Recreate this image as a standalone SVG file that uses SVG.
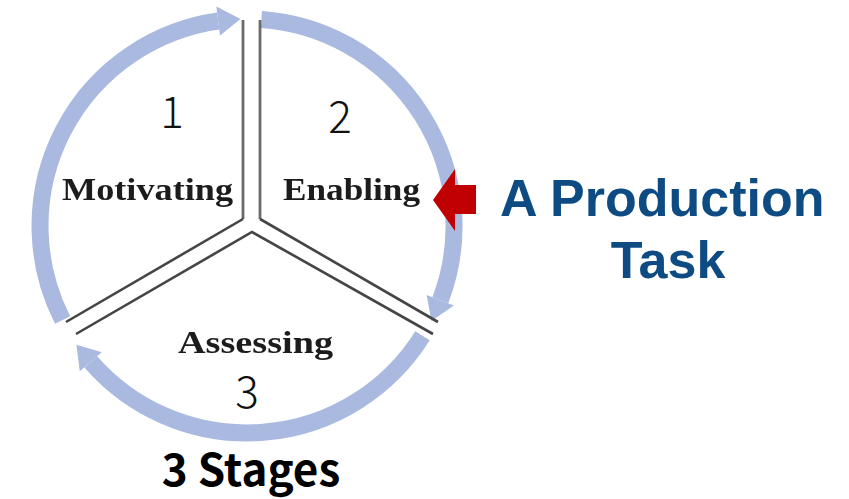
<svg xmlns="http://www.w3.org/2000/svg" width="849" height="499" viewBox="0 0 849 499">
<defs>
<filter id="soft" x="-10%" y="-10%" width="120%" height="120%"><feGaussianBlur stdDeviation="0.7"/></filter>
<filter id="softer" x="-5%" y="-5%" width="110%" height="110%"><feGaussianBlur stdDeviation="0.6"/></filter>
</defs>
<style>
.ring{fill:none;stroke:#a9b9df;stroke-width:17;stroke-linecap:butt}
.head{fill:#a9b9df}
.div{fill:none;stroke:#444;stroke-width:2.6}
.vdiv{fill:none;stroke:#6a6a6a;stroke-width:2.8}
.num{font-family:"Noto Sans CJK SC","Noto Sans",sans-serif;font-weight:300;font-size:44px;fill:#111;text-anchor:middle}
.stage{font-family:"Liberation Serif","DejaVu Serif",serif;font-weight:bold;font-size:31px;fill:#1c1c1c}
.title{font-family:"Liberation Sans",Arial,sans-serif;font-weight:bold;font-size:52px;fill:#0d4b82}
.cap{font-family:"Noto Sans CJK SC","Noto Sans",sans-serif;font-weight:bold;font-size:44px;fill:#000;text-anchor:middle}
</style>
<rect width="849" height="499" fill="#fff"/>
<g id="connectors" filter="url(#soft)">
<path class="ring" d="M62.6,320 A207,207 0 0 1 218.2,21"/>
<polygon class="head" points="220,35.5 216.4,6.5 240.5,19.1"/>
<path class="ring" d="M261.4,19.5 A207,207 0 0 1 440.3,300.2"/>
<polygon class="head" points="426.6,294.9 453.9,305.4 431.4,321"/>
<path class="ring" d="M422.5,335.7 A207,207 0 0 1 90.8,361.8"/>
<polygon class="head" points="101.8,352.3 79.8,371.3 76.4,344.7"/>
<path class="vdiv" d="M243,20 V219"/>
<path class="vdiv" d="M260,20 V219"/>
<path class="div" d="M243,219 L66,322"/>
<path class="div" d="M260,219 L438,322"/>
<path class="div" d="M76,334 L252,232 L433,334"/>
</g>
<g id="motivating">
<text class="num" x="172" y="128">1</text>
<text class="stage" x="62" y="200" textLength="171" lengthAdjust="spacingAndGlyphs" filter="url(#softer)">Motivating</text>
</g>
<g id="enabling">
<text class="num" x="340" y="133">2</text>
<text class="stage" x="283" y="200" textLength="137" lengthAdjust="spacingAndGlyphs" filter="url(#softer)">Enabling</text>
</g>
<g id="assessing">
<text class="stage" x="178" y="353" textLength="155" lengthAdjust="spacingAndGlyphs" filter="url(#softer)">Assessing</text>
<text class="num" x="247" y="408">3</text>
</g>
<g id="production-task">
<polygon fill="#c00000" points="433,200 455,169 455,185 476,185 476,214 455,214 455,231"/>
<text class="title" x="500" y="216">A Production</text>
<text class="title" x="668" y="278" text-anchor="middle">Task</text>
</g>
<g id="caption">
<text class="cap" x="251" y="486">3 Stages</text>
</g>
</svg>
